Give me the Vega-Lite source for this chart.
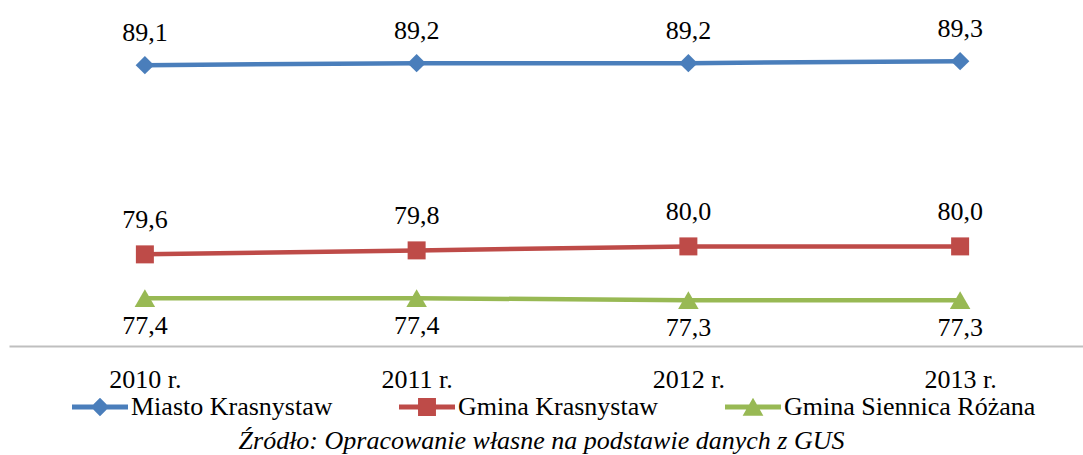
{
  "$schema": "https://vega.github.io/schema/vega-lite/v6.json",
  "width": 1087,
  "height": 346,
  "autosize": {"type": "none"},
  "padding": {"left": 9, "top": 0, "right": 0, "bottom": 109},
  "background": "white",
  "config": {
    "view": {"stroke": null},
    "font": "Liberation Serif",
    "text": {"font": "Liberation Serif"},
    "locale": {"number": {"decimal": ",", "thousands": "\u00a0", "grouping": [3], "currency": ["", " zł"]}}
  },
  "data": {
    "values": [
      {"rok": "2010 r.", "seria": "Miasto Krasnystaw", "wartosc": 89.1},
      {"rok": "2011 r.", "seria": "Miasto Krasnystaw", "wartosc": 89.2},
      {"rok": "2012 r.", "seria": "Miasto Krasnystaw", "wartosc": 89.2},
      {"rok": "2013 r.", "seria": "Miasto Krasnystaw", "wartosc": 89.3},
      {"rok": "2010 r.", "seria": "Gmina Krasnystaw", "wartosc": 79.6},
      {"rok": "2011 r.", "seria": "Gmina Krasnystaw", "wartosc": 79.8},
      {"rok": "2012 r.", "seria": "Gmina Krasnystaw", "wartosc": 80.0},
      {"rok": "2013 r.", "seria": "Gmina Krasnystaw", "wartosc": 80.0},
      {"rok": "2010 r.", "seria": "Gmina Siennica Różana", "wartosc": 77.4},
      {"rok": "2011 r.", "seria": "Gmina Siennica Różana", "wartosc": 77.4},
      {"rok": "2012 r.", "seria": "Gmina Siennica Różana", "wartosc": 77.3},
      {"rok": "2013 r.", "seria": "Gmina Siennica Różana", "wartosc": 77.3}
    ]
  },
  "encoding": {
    "x": {
      "field": "rok",
      "type": "ordinal",
      "sort": null,
      "scale": {"type": "point", "padding": 0.5},
      "axis": {
        "title": "Źródło: Opracowanie własne na podstawie danych z GUS",
        "titleFontStyle": "italic",
        "titleFontWeight": "normal",
        "titleFontSize": 26,
        "titleFont": "Liberation Serif",
        "titleColor": "black",
        "titleX": 532,
        "titleY": 94,
        "titleAnchor": "middle",
        "titleAlign": "center",
        "titleBaseline": "middle",
        "labelAngle": 0,
        "labelFontSize": 26,
        "labelFont": "Liberation Serif",
        "labelColor": "black",
        "ticks": false,
        "grid": false,
        "domainColor": "#BFBFBF",
        "domainWidth": 2,
        "labelPadding": 20
      }
    },
    "y": {
      "field": "wartosc",
      "type": "quantitative",
      "scale": {"domain": [75, 92.37], "zero": false, "nice": false},
      "axis": null
    },
    "color": {
      "field": "seria",
      "type": "nominal",
      "scale": {
        "domain": ["Miasto Krasnystaw", "Gmina Krasnystaw", "Gmina Siennica Różana"],
        "range": ["#4A7EBB", "#BE4B48", "#98B954"]
      },
      "legend": {
        "orient": "none",
        "legendX": 63,
        "legendY": 379,
        "direction": "horizontal",
        "title": null,
        "symbolSize": 3136,
        "labelFontSize": 26,
        "labelFont": "Liberation Serif",
        "labelColor": "black",
        "labelOffset": 3,
        "labelLimit": 0,
        "columnPadding": 66,
        "encode": {
          "symbols": {
            "update": {
              "shape": {"signal": "datum.value === 'Miasto Krasnystaw' ? 'M-1,-0.085L1,-0.085L1,0.085L-1,0.085ZM0,-0.33L0.33,0L0,0.33L-0.33,0Z' : datum.value === 'Gmina Krasnystaw' ? 'M-1,-0.085L1,-0.085L1,0.085L-1,0.085ZM-0.32,-0.32L0.32,-0.32L0.32,0.32L-0.32,0.32Z' : 'M-1,-0.085L1,-0.085L1,0.085L-1,0.085ZM0,-0.33L0.37,0.31L-0.37,0.31Z'"},
              "size": {"value": 3136},
              "fill": {"signal": "scale('color', datum.value)"},
              "strokeWidth": {"value": 0},
              "opacity": {"value": 1},
              "fillOpacity": {"value": 1}
            }
          }
        }
      }
    }
  },
  "layer": [
    {"mark": {"type": "line", "strokeWidth": 4.5}},
    {
      "transform": [{"filter": "datum.seria === 'Miasto Krasnystaw'"}],
      "mark": {"type": "point", "filled": true, "opacity": 1, "shape": "diamond", "size": 340}
    },
    {
      "transform": [{"filter": "datum.seria === 'Gmina Krasnystaw'"}],
      "mark": {"type": "point", "filled": true, "opacity": 1, "shape": "square", "size": 324}
    },
    {
      "transform": [{"filter": "datum.seria === 'Gmina Siennica Różana'"}],
      "mark": {"type": "point", "filled": true, "opacity": 1, "shape": "triangle-up", "size": 420}
    },
    {
      "transform": [{"filter": "datum.seria === 'Miasto Krasnystaw'"}],
      "mark": {"type": "text", "fontSize": 26, "font": "Liberation Serif", "dy": -32},
      "encoding": {"text": {"field": "wartosc", "type": "quantitative", "format": ".1f"}, "color": {"value": "black"}}
    },
    {
      "transform": [{"filter": "datum.seria === 'Gmina Krasnystaw'"}],
      "mark": {"type": "text", "fontSize": 26, "font": "Liberation Serif", "dy": -34},
      "encoding": {"text": {"field": "wartosc", "type": "quantitative", "format": ".1f"}, "color": {"value": "black"}}
    },
    {
      "transform": [{"filter": "datum.seria === 'Gmina Siennica Różana'"}],
      "mark": {"type": "text", "fontSize": 26, "font": "Liberation Serif", "dy": 28},
      "encoding": {"text": {"field": "wartosc", "type": "quantitative", "format": ".1f"}, "color": {"value": "black"}}
    }
  ]
}
